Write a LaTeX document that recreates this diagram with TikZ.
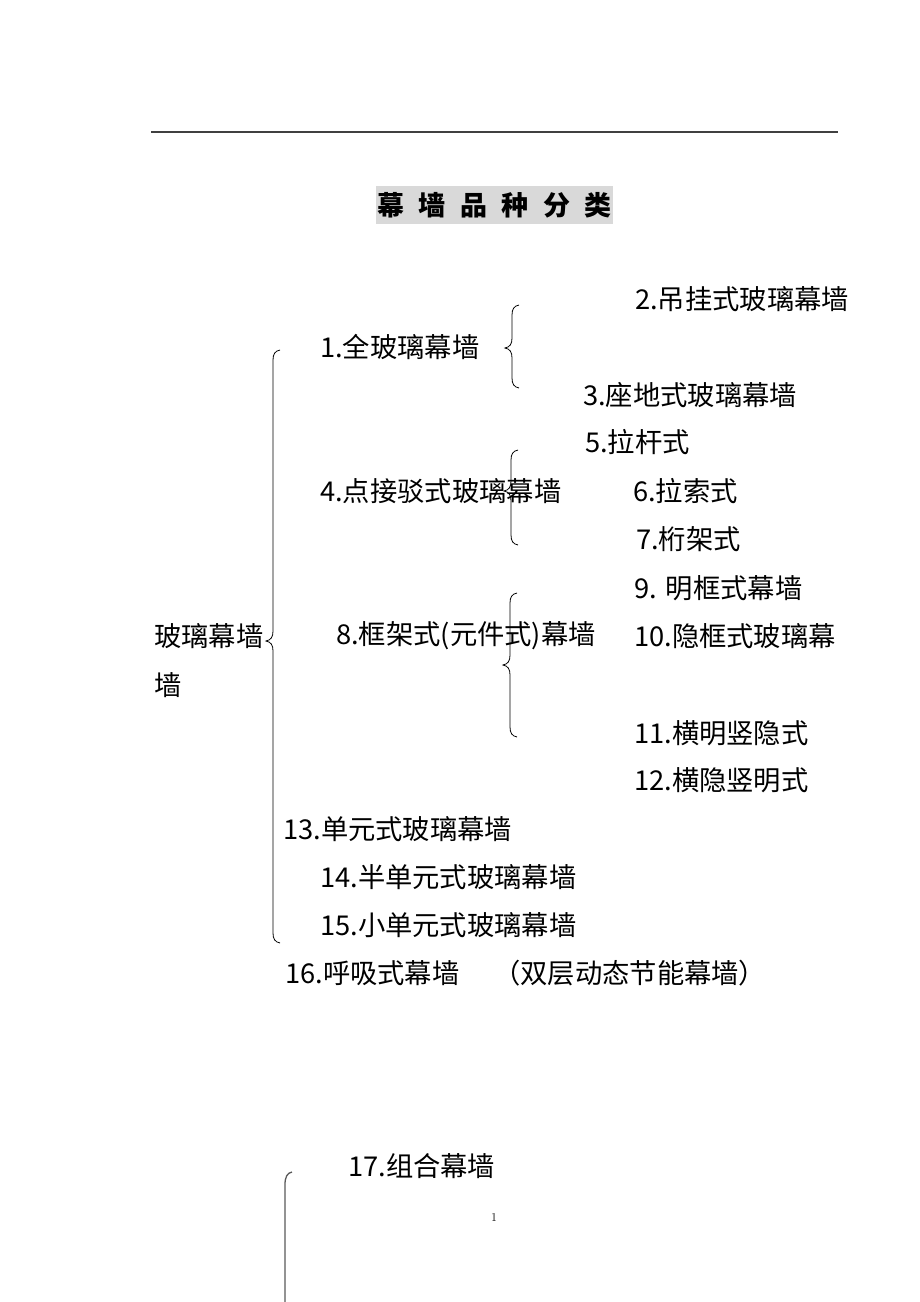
\documentclass[tikz,border=0pt]{standalone}
\usepackage{fontspec}
\setmainfont{Noto Sans CJK SC}
\definecolor{titlegray}{RGB}{217,217,217}
\definecolor{rulegray}{RGB}{64,64,64}
\newcommand\mybrace[4]{%
 \draw[brace] ({#1+7},#2) .. controls ({#1+2},{#2+1}) and (#1,{#2+4}) .. (#1,{#2+10}) -- (#1,{#3-10}) .. controls (#1,{#3-4}) and ({#1-2},{#3-1}) .. ({#1-7},#3) .. controls ({#1-2},{#3+1}) and (#1,{#3+4}) .. (#1,{#3+10}) -- (#1,{#4-10}) .. controls (#1,{#4-4}) and ({#1+2},{#4-1}) .. ({#1+7},#4);}
\begin{document}
\begin{tikzpicture}[x=1pt,y=-1pt,
  lbl/.style={anchor=west,inner sep=0pt,font=\fontsize{27.3}{32}\selectfont},
  brace/.style={draw=black,line width=0.8pt}]
\useasboundingbox (0,0) rectangle (920,1302);
\draw[line width=1.3pt,rulegray] (151,132) -- (838,132);
\fill[titlegray] (376,186) rectangle (613,224);
\node[inner sep=0pt,font=\fontsize{27}{30}\selectfont\bfseries] (title) at (494.5,205) {幕\hspace{14.5pt}墙\hspace{14.5pt}品\hspace{14.5pt}种\hspace{14.5pt}分\hspace{14.5pt}类};
\node[lbl] (n2) at (635,299) {2.吊挂式玻璃幕墙};
\node[lbl] (n1) at (320,347) {1.全玻璃幕墙};
\node[lbl] (n3) at (583,395) {3.座地式玻璃幕墙};
\node[lbl] (n5) at (585,442) {5.拉杆式};
\node[lbl] (n4) at (320,491) {4.点接驳式玻璃幕墙};
\node[lbl] (n6) at (633,491) {6.拉索式};
\node[lbl] (n7) at (636,539) {7.桁架式};
\node[lbl] (n9) at (634,588) {9.\hspace{9pt}明框式幕墙};
\node[lbl] (root) at (154,636) {玻璃幕墙};
\node[lbl] (root2) at (154,685) {墙};
\node[lbl] (n8) at (336,636) {8.框架式(元件式)幕墙};
\node[lbl] (n10) at (634,636) {10.隐框式玻璃幕};
\node[lbl] (n11) at (634,733) {11.横明竖隐式};
\node[lbl] (n12) at (634,780) {12.横隐竖明式};
\node[lbl] (n13) at (283,829) {13.单元式玻璃幕墙};
\node[lbl] (n14) at (320,877) {14.半单元式玻璃幕墙};
\node[lbl] (n15) at (320,925) {15.小单元式玻璃幕墙};
\node[lbl] (n16) at (285,973) {16.呼吸式幕墙};
\node[lbl] (n16b) at (493,973) {（双层动态节能幕墙）};
\node[lbl] (n17) at (348,1166) {17.组合幕墙};
\node[inner sep=0pt,font=\fontfamily{lmr}\fontsize{12}{14}\selectfont] (page) at (494,1217) {1};
\mybrace{273}{350}{641}{943}
\mybrace{512}{305}{348}{388}
\mybrace{511}{450}{491}{545}
\mybrace{510}{593}{665}{737}
\draw[line width=1.3pt,black!65] (292,1172) .. controls (287,1173) and (285,1177) .. (285,1185) -- (285,1302);
\end{tikzpicture}
\end{document}
